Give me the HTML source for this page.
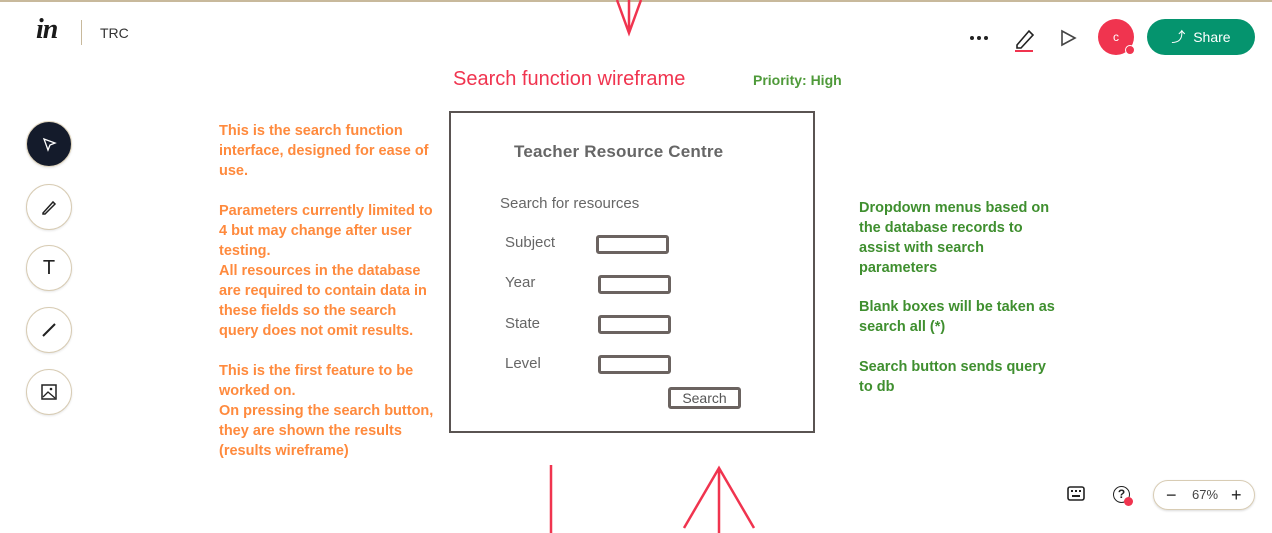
<!DOCTYPE html>
<html><head><meta charset="utf-8"><style>
body{margin:0;width:1272px;height:533px;overflow:hidden;background:#fff;font-family:"Liberation Sans",sans-serif;position:relative}
.a{position:absolute}
.t{position:absolute;font-size:14.5px;line-height:20px;font-weight:bold;white-space:nowrap}
.or{color:#ff8a3d}
.gr{color:#3f8f2f}
.tool{position:absolute;left:26px;width:44px;height:44px;border-radius:50%;border:1.5px solid #d8ccb4;background:#fff;box-shadow:0 1px 2px rgba(0,0,0,.1);display:flex;align-items:center;justify-content:center}
.wl{position:absolute;left:505px;font-size:15px;color:#666}
.box{position:absolute;border:3px solid #6b6360;border-radius:3px;width:67px;height:13px}
</style></head><body>
<div class="a" style="left:0;top:0;width:1272px;height:2px;background:#c8b99c"></div>
<div class="a" style="left:36px;top:14px;font:italic bold 28px 'Liberation Serif',serif;color:#1a1a1a;letter-spacing:-1px">in</div>
<div class="a" style="left:81px;top:20px;width:1px;height:25px;background:#c8b99c"></div>
<div class="a" style="left:100px;top:25px;font-size:14px;color:#333">TRC</div>
<div class="a" style="left:970px;top:36px;width:20px;height:4px">
<span style="position:absolute;left:0;width:4px;height:4px;border-radius:50%;background:#222"></span><span style="position:absolute;left:7px;width:4px;height:4px;border-radius:50%;background:#222"></span><span style="position:absolute;left:14px;width:4px;height:4px;border-radius:50%;background:#222"></span></div>
<svg class="a" style="left:1012px;top:26px" width="26" height="26"><path d="M5 19 L17 5 L21 9 L9 22 L5 22 Z" fill="none" stroke="#222" stroke-width="1.6"/><rect x="3" y="24" width="18" height="2" fill="#f0344f"/></svg>
<svg class="a" style="left:1060px;top:29px" width="18" height="18"><path d="M2 2 L15 9 L2 16 Z" fill="none" stroke="#444" stroke-width="1.6"/></svg>
<div class="a" style="left:1098px;top:19px;width:36px;height:36px;border-radius:50%;background:#f0344f;color:#fff;font-size:12px;text-align:center;line-height:36px">c</div>
<div class="a" style="left:1125px;top:45px;width:8px;height:8px;border-radius:50%;background:#f0344f;border:1.5px solid #fff"></div>
<div class="a" style="left:1147px;top:19px;width:108px;height:36px;border-radius:18px;background:#05946e;color:#fff;font-size:14px;line-height:36px;text-align:center">&#x2934;&nbsp; Share</div>

<div class="tool" style="top:121px;background:#141b2b;border-color:#e0d6c0"><svg width="16" height="16"><path d="M3 3 L14 7 L9 9 L7 14 Z" fill="none" stroke="#fff" stroke-width="1.3"/></svg></div>
<div class="tool" style="top:184px"><svg width="18" height="18"><path d="M3 15 L13 4 L15 6 L5 16 L3 16 Z" fill="none" stroke="#222" stroke-width="1.5"/></svg></div>
<div class="tool" style="top:245px;font-size:20px;color:#222">T</div>
<div class="tool" style="top:307px"><svg width="18" height="18"><path d="M3 15 L15 3" stroke="#222" stroke-width="2"/></svg></div>
<div class="tool" style="top:369px"><svg width="18" height="18"><rect x="2" y="2" width="14" height="14" fill="none" stroke="#222" stroke-width="1.5"/><path d="M3 14 L8 9 L15 15" fill="none" stroke="#222" stroke-width="1.3"/><circle cx="11" cy="6" r="1.3" fill="#222"/></svg></div>

<svg class="a" style="left:0;top:0" width="1272" height="533"><g stroke="#f0344f" stroke-width="2.5" fill="none"><path d="M629 0 V33 M617 0 L629 33 L641 0"/><path d="M551 465 V533"/><path d="M719 468 V533 M684 528 L719 468 L754 528"/></g></svg>

<div class="a" style="left:453px;top:68px;font-size:20px;color:#f0344f">Search function wireframe</div>
<div class="a" style="left:753px;top:72px;font-size:14px;font-weight:bold;color:#4f9a3a">Priority: High</div>

<div class="t or" style="left:219px;top:121px">This is the search function<br>interface, designed for ease of<br>use.</div>
<div class="t or" style="left:219px;top:201px">Parameters currently limited to<br>4 but may change after user<br>testing.<br>All resources in the database<br>are required to contain data in<br>these fields so the search<br>query does not omit results.</div>
<div class="t or" style="left:219px;top:361px">This is the first feature to be<br>worked on.<br>On pressing the search button,<br>they are shown the results<br>(results wireframe)</div>

<div class="t gr" style="left:859px;top:198px">Dropdown menus based on<br>the database records to<br>assist with search<br>parameters</div>
<div class="t gr" style="left:859px;top:297px">Blank boxes will be taken as<br>search all (*)</div>
<div class="t gr" style="left:859px;top:357px">Search button sends query<br>to db</div>

<div class="a" style="left:449px;top:111px;width:362px;height:318px;border:2.5px solid #5a5452"></div>
<div class="a" style="left:514px;top:142px;font-size:17px;font-weight:bold;color:#666;letter-spacing:0.2px">Teacher Resource Centre</div>
<div class="a" style="left:500px;top:195px;font-size:15px;color:#666">Search for resources</div>
<div class="wl" style="top:234px">Subject</div>
<div class="wl" style="top:274px">Year</div>
<div class="wl" style="top:315px">State</div>
<div class="wl" style="top:355px">Level</div>
<div class="box" style="left:596px;top:235px"></div>
<div class="box" style="left:598px;top:275px"></div>
<div class="box" style="left:598px;top:315px"></div>
<div class="box" style="left:598px;top:355px"></div>
<div class="box" style="left:668px;top:387px;height:16px;font-size:14px;color:#555;text-align:center;line-height:16px">Search</div>

<svg class="a" style="left:1067px;top:486px" width="18" height="16"><rect x="1" y="1" width="16" height="13" rx="2" fill="none" stroke="#222" stroke-width="1.6"/><g fill="#222"><rect x="4" y="4" width="2" height="2"/><rect x="8" y="4" width="2" height="2"/><rect x="12" y="4" width="2" height="2"/><rect x="5" y="9" width="8" height="2"/></g></svg>
<div class="a" style="left:1113px;top:486px;width:15px;height:15px;border:1.8px solid #222;border-radius:50%;font-size:12px;font-weight:bold;text-align:center;line-height:15px;color:#222">?</div>
<div class="a" style="left:1124px;top:497px;width:9px;height:9px;border-radius:50%;background:#f0344f"></div>
<div class="a" style="left:1153px;top:480px;width:100px;height:28px;border:1.5px solid #d8ccb4;border-radius:15px;box-shadow:0 1px 2px rgba(0,0,0,.15);font-size:13px;color:#444;line-height:28px">
<span style="position:absolute;left:12px;font-size:18px;color:#222">−</span>
<span style="position:absolute;left:38px">67%</span>
<span style="position:absolute;left:77px;font-size:18px;color:#222">+</span></div>
</body></html>
